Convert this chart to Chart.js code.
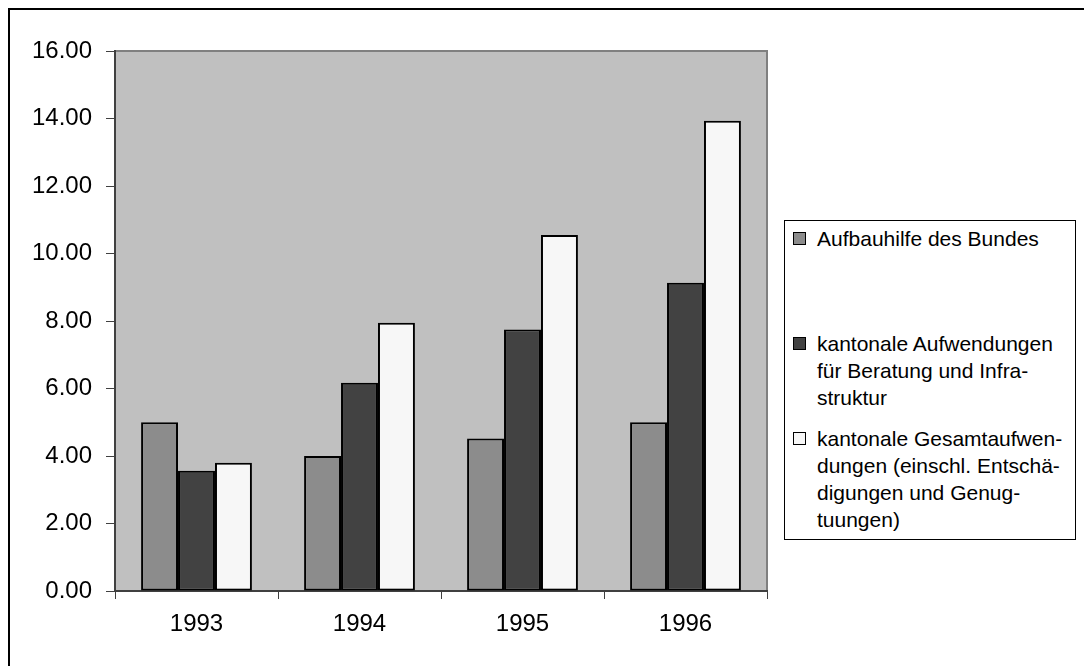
<!DOCTYPE html>
<html>
<head>
<meta charset="utf-8">
<script src="https://cdn.jsdelivr.net/npm/chart.js@4"></script>
<style>
  html, body { margin: 0; padding: 0; background: #fff; overflow: hidden; }
  #wrap { position: relative; width: 1084px; height: 666px; }
  #frame { position: absolute; left: 8px; top: 8px; width: 2000px; height: 2000px;
           border-left: 2px solid #000; border-top: 2px solid #000; box-sizing: border-box; }
  #chart { position: absolute; left: 0; top: 0; }
  #legend { position: absolute; left: 784px; top: 220px; width: 292px; height: 320px;
            border: 1px solid #000; box-sizing: border-box; background: #fff;
            font-family: "Liberation Sans", Arial, sans-serif; font-size: 21px; color: #000; }
  .item { position: absolute; left: 0; width: 290px; }
  .box { position: absolute; left: 8px; top: 7px; width: 13px; height: 13px;
         border: 1.5px solid #000; box-sizing: border-box; }
  .txt { position: absolute; left: 32px; top: 0; line-height: 27px; white-space: pre; }
</style>
</head>
<body>
<div id="wrap">
  <div id="frame"></div>
  <canvas id="chart" width="1084" height="666"></canvas>
  <div id="legend"></div>
</div>
<script>
const years = ['1993', '1994', '1995', '1996'];
const bundValues = [5.0, 4.0, 4.52, 5.0];
const beratungValues = [3.56, 6.17, 7.75, 9.13];
const gesamtValues = [3.8, 7.95, 10.55, 13.93];
const seriesNames = [
  'Aufbauhilfe des Bundes',
  'kantonale Aufwendungen\nfür Beratung und Infra-\nstruktur',
  'kantonale Gesamtaufwen-\ndungen (einschl. Entschä-\ndigungen und Genug-\ntuungen)'
];
const seriesColors = ['#8c8c8c', '#424242', '#f7f7f7'];
const yTicks = [0, 2, 4, 6, 8, 10, 12, 14, 16];

// grey plot area with the thin border lines on top and right
const plotBackground = {
  id: 'plotBackground',
  beforeDraw(chart) {
    const { ctx, chartArea: a } = chart;
    ctx.save();
    ctx.fillStyle = '#c0c0c0';
    ctx.fillRect(a.left, a.top, a.right - a.left, a.bottom - a.top);
    ctx.strokeStyle = '#808080';
    ctx.lineWidth = 2;
    ctx.beginPath();
    ctx.moveTo(a.left, a.top);
    ctx.lineTo(a.right, a.top);
    ctx.lineTo(a.right, a.bottom);
    ctx.stroke();
    ctx.restore();
  }
};

const tickFont = { family: '"Liberation Sans", Arial, sans-serif', size: 24 };

const chart = new Chart(document.getElementById('chart').getContext('2d'), {
  type: 'bar',
  data: {
    labels: years,
    datasets: [bundValues, beratungValues, gesamtValues].map((data, i) => ({
      label: seriesNames[i],
      data,
      backgroundColor: seriesColors[i],
      borderColor: '#000',
      borderWidth: 2,
      borderSkipped: false,
      categoryPercentage: 0.68,
      barPercentage: 1.0,
    }))
  },
  options: {
    responsive: false,
    animation: false,
    layout: { padding: { left: 0, top: 51, right: 317, bottom: 0 } },
    plugins: { legend: { display: false }, tooltip: { enabled: false } },
    scales: {
      x: {
        offset: true,
        grid: { offset: true, drawOnChartArea: false, drawTicks: true, tickLength: 8, color: '#404040', lineWidth: 1 },
        border: { display: true, color: '#404040', width: 2 },
        ticks: { color: '#000', font: tickFont, padding: 11 },
        afterFit(scale) { scale.height = 75; }
      },
      y: {
        min: 0,
        max: 16,
        afterBuildTicks(scale) { scale.ticks = yTicks.map(v => ({ value: v })); },
        grid: { drawOnChartArea: false, drawTicks: true, tickLength: 9, color: '#404040', lineWidth: 1 },
        border: { display: true, color: '#404040', width: 2 },
        ticks: { color: '#000', font: tickFont, padding: 14, callback: v => Number(v).toFixed(2) },
        afterFit(scale) { scale.width = 115; }
      }
    }
  },
  plugins: [plotBackground]
});

// legend in a box on the right, built from the datasets
const legendTops = [4, 109, 204];
const legend = document.getElementById('legend');
chart.data.datasets.forEach((ds, i) => {
  const item = document.createElement('div');
  item.className = 'item';
  item.style.top = legendTops[i] + 'px';
  const box = document.createElement('div');
  box.className = 'box';
  box.style.background = ds.backgroundColor;
  const txt = document.createElement('div');
  txt.className = 'txt';
  txt.textContent = ds.label;
  item.appendChild(box);
  item.appendChild(txt);
  legend.appendChild(item);
});
</script>
</body>
</html>
